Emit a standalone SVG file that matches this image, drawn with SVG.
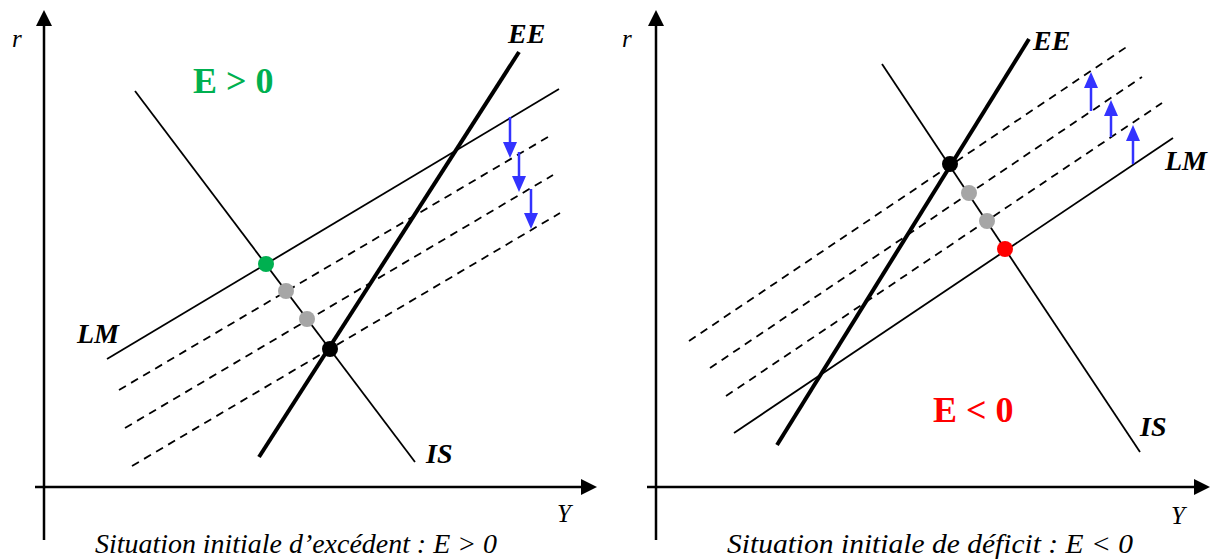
<svg xmlns="http://www.w3.org/2000/svg" width="1228" height="560" viewBox="0 0 1228 560">
<defs>
<style>
.axis{stroke:#000;stroke-width:2.5;fill:none}
.thin{stroke:#000;stroke-width:1.8;fill:none}
.thick{stroke:#000;stroke-width:4;fill:none}
.dash{stroke:#000;stroke-width:1.8;fill:none;stroke-dasharray:8 6}
.blue{stroke:#3333ff;stroke-width:2.5;fill:none}
.lbl{font-family:"Liberation Serif",serif;font-weight:bold;font-style:italic;font-size:28px;fill:#000}
.ax{font-family:"Liberation Serif",serif;font-style:italic;font-size:25px;fill:#000}
.cap{font-family:"Liberation Serif",serif;font-style:italic;font-size:27px;fill:#000}
.big{font-family:"Liberation Serif",serif;font-weight:bold;font-size:36px}
</style>
</defs>
<rect width="1228" height="560" fill="#fff"/>
<g id="left-axes">
<line class="axis" x1="44" y1="540" x2="44" y2="22"/>
<polygon points="44,10 36,26 52,26" fill="#000"/>
<line class="axis" x1="35" y1="487" x2="585" y2="487"/>
<polygon points="597,487 581,479 581,495" fill="#000"/>
<text class="ax" x="12" y="47">r</text>
<text class="ax" x="557" y="522">Y</text>
</g>
<g id="right-axes">
<line class="axis" x1="656" y1="540" x2="656" y2="22"/>
<polygon points="656,10 648,26 664,26" fill="#000"/>
<line class="axis" x1="647" y1="487" x2="1198" y2="487"/>
<polygon points="1210,487 1194,479 1194,495" fill="#000"/>
<text class="ax" x="622" y="47">r</text>
<text class="ax" x="1171" y="524">Y</text>
</g>
<g id="connectors">
<line class="thin" x1="107" y1="359" x2="559" y2="89"/>
<line class="dash" x1="119" y1="390" x2="548" y2="137"/>
<line class="dash" x1="125" y1="428" x2="553" y2="175"/>
<line class="dash" x1="132" y1="466" x2="560" y2="213"/>
<line class="thin" x1="135" y1="91" x2="415" y2="462"/>
<line class="thick" x1="259" y1="457" x2="519" y2="52"/>
<line class="blue" x1="510" y1="117" x2="510" y2="145"/>
<polygon points="510,158 503,142 517,142" fill="#3333ff"/>
<line class="blue" x1="519" y1="152" x2="519" y2="180"/>
<polygon points="519,192 512,176 526,176" fill="#3333ff"/>
<line class="blue" x1="531" y1="189" x2="531" y2="217"/>
<polygon points="531,229 524,213 538,213" fill="#3333ff"/>
<line class="thin" x1="734" y1="433" x2="1173" y2="138"/>
<line class="dash" x1="689" y1="341" x2="1128" y2="46"/>
<line class="dash" x1="710" y1="368" x2="1142" y2="77"/>
<line class="dash" x1="726" y1="396" x2="1162" y2="103"/>
<line class="thin" x1="882" y1="64" x2="1140" y2="452"/>
<line class="thick" x1="777" y1="445" x2="1029" y2="39"/>
<line class="blue" x1="1091" y1="111" x2="1091" y2="84"/>
<polygon points="1091,72 1084,88 1098,88" fill="#3333ff"/>
<line class="blue" x1="1111" y1="137" x2="1111" y2="112"/>
<polygon points="1111,100 1104,116 1118,116" fill="#3333ff"/>
<line class="blue" x1="1133" y1="164" x2="1133" y2="137"/>
<polygon points="1133,125 1126,141 1140,141" fill="#3333ff"/>
</g>
<g id="left-points">
<circle cx="266" cy="264" r="8" fill="#00b050"/>
<circle cx="286" cy="291" r="8" fill="#a6a6a6"/>
<circle cx="307" cy="319" r="8" fill="#a6a6a6"/>
<circle cx="330" cy="349" r="8" fill="#000"/>
</g>
<g id="right-points">
<circle cx="950" cy="164" r="8" fill="#000"/>
<circle cx="969" cy="193" r="8" fill="#a6a6a6"/>
<circle cx="987" cy="221" r="8" fill="#a6a6a6"/>
<circle cx="1005" cy="249" r="8" fill="#ff0000"/>
</g>
<g id="left-labels">
<text class="big" x="193" y="93" fill="#00b050">E &gt; 0</text>
<text class="lbl" x="508" y="43">EE</text>
<text class="lbl" x="77" y="343">LM</text>
<text class="lbl" x="426" y="463">IS</text>
<text class="cap" x="95" y="553" textLength="402" lengthAdjust="spacingAndGlyphs">Situation initiale d’excédent : E &gt; 0</text>
</g>
<g id="right-labels">
<text class="big" x="933" y="422" fill="#ff0000">E &lt; 0</text>
<text class="lbl" x="1033" y="50">EE</text>
<text class="lbl" x="1165" y="170">LM</text>
<text class="lbl" x="1140" y="436">IS</text>
<text class="cap" x="727" y="553" textLength="406" lengthAdjust="spacingAndGlyphs">Situation initiale de déficit : E &lt; 0</text>
</g>
</svg>
